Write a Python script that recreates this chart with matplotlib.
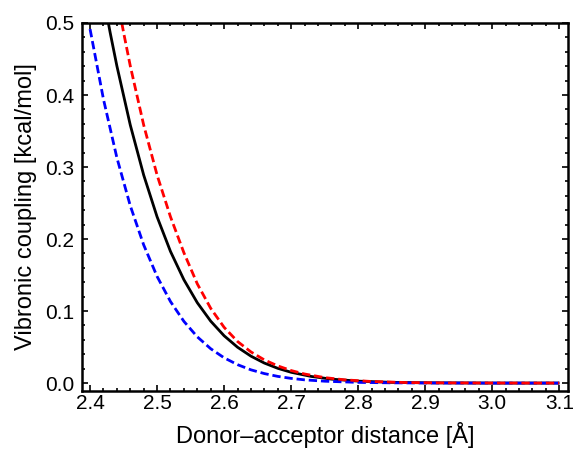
import numpy as np
import matplotlib
matplotlib.use("Agg")
import matplotlib.pyplot as plt
from matplotlib.ticker import MultipleLocator, FormatStrFormatter

plt.rcParams['font.family'] = ['Liberation Sans', 'DejaVu Sans']

# distances [Å]
x_blue = [2.40, 2.42, 2.44, 2.46, 2.48, 2.50, 2.52, 2.54, 2.56, 2.58, 2.60,
          2.62, 2.64, 2.66, 2.68, 2.70, 2.72, 2.75, 2.80, 2.85, 2.90, 3.00, 3.10]
y_blue = [0.4916, 0.3942, 0.3131, 0.2463, 0.1919, 0.1481, 0.1132, 0.0857,
          0.0642, 0.0477, 0.0351, 0.0256, 0.0184, 0.0132, 0.0093, 0.0065,
          0.0045, 0.0026, 0.00096, 0.00034, 0.00011, 0.0, 0.0]

x_black = [2.40, 2.41, 2.42, 2.43, 2.44, 2.46, 2.48, 2.50, 2.52, 2.54, 2.56,
           2.58, 2.60, 2.62, 2.64, 2.66, 2.68, 2.70, 2.73, 2.76, 2.80, 2.85,
           2.90, 3.00, 3.10]
y_black = [0.648, 0.590, 0.5366, 0.4867, 0.4405, 0.3584, 0.2889, 0.2309,
           0.1828, 0.1435, 0.1116, 0.0860, 0.0657, 0.0498, 0.0374, 0.0278,
           0.0205, 0.0150, 0.0092, 0.0055, 0.0027, 0.0010, 0.0004, 0.0, 0.0]

x_red = [2.40, 2.42, 2.44, 2.45, 2.46, 2.48, 2.50, 2.52, 2.54, 2.56, 2.58,
         2.60, 2.62, 2.64, 2.66, 2.68, 2.70, 2.72, 2.75, 2.78, 2.82, 2.87,
         2.92, 3.00, 3.10]
y_red = [0.775, 0.648, 0.5366, 0.487, 0.4405, 0.3584, 0.2889, 0.2309, 0.181,
         0.1378, 0.1038, 0.0774, 0.0578, 0.0433, 0.0322, 0.0239, 0.0174,
         0.0126, 0.0076, 0.0045, 0.0022, 0.0008, 0.0003, 0.0001, 0.0]

x_ticks = [2.4, 2.5, 2.6, 2.7, 2.8, 2.9, 3.0, 3.1]
y_ticks = [0.0, 0.1, 0.2, 0.3, 0.4, 0.5]

fig = plt.figure(figsize=(5.76, 4.51), dpi=100)
ax = fig.add_axes([82/576, 1-391/451, (568-82)/576, (391-23)/451])

lw = 2.0
ax.plot(x_black, y_black, color='black', lw=lw, solid_capstyle='butt')
ax.plot(x_blue, y_blue, color=(0, 0, 1), lw=lw, dashes=(3.0, 1.4))
ax.plot(x_red, y_red, color=(1, 0, 0), lw=lw, dashes=(3.0, 1.4))

ax.set_xlim(2.388, 3.113)
ax.set_ylim(-0.011, 0.5)
ax.set_xticks(x_ticks)
ax.set_yticks(y_ticks)
ax.xaxis.set_major_formatter(FormatStrFormatter('%.1f'))
ax.yaxis.set_major_formatter(FormatStrFormatter('%.1f'))
ax.xaxis.set_minor_locator(MultipleLocator(0.02))
ax.yaxis.set_minor_locator(MultipleLocator(0.02))
ax.tick_params(which='both', direction='in', top=True, right=True,
               width=1.2, labelsize=15)
ax.tick_params(axis='x', which='major', pad=2.5)
ax.tick_params(axis='y', which='major', pad=5.5)
ax.tick_params(which='major', length=4)
ax.tick_params(which='minor', length=2.2)
for s in ax.spines.values():
    s.set_linewidth(1.8)

ax.set_xlabel('Donor\u2013acceptor distance [Å]', fontsize=17, labelpad=6)
ax.set_ylabel('Vibronic coupling [kcal/mol]', fontsize=17, labelpad=6)

fig.savefig('out.png', dpi=100)
